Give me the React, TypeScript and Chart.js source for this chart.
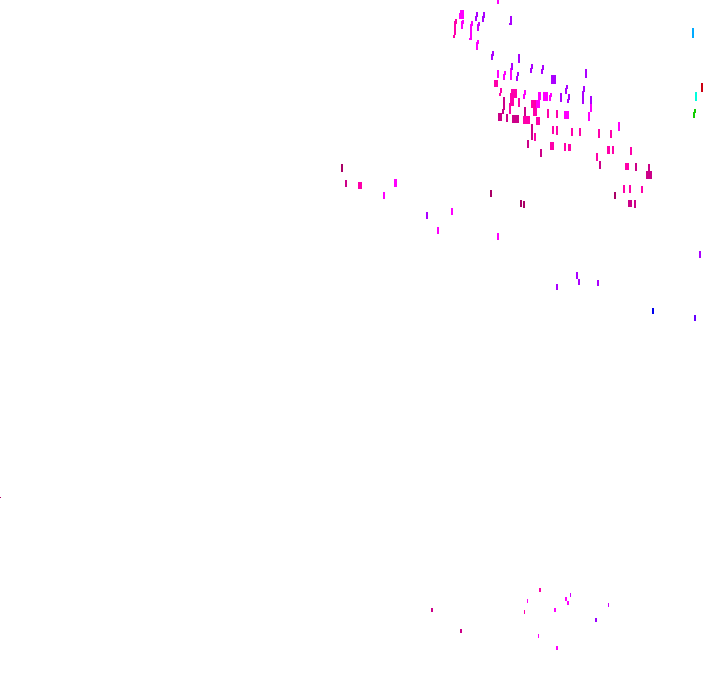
import React, { useEffect, useRef } from "react";
import { Chart, registerables } from "chart.js";

Chart.register(...registerables);

const violetX = [477,476,484,483,511,509.5,493,492,519,512,532,531,543,542,586,518,517,553.5,567,566,584,583,569,568,561,591,427,700,577,579,598,557];
const violetY = [14.5,18.5,15,19,20.5,24,53.5,57,58.5,66.5,66.5,70.5,67.5,71.5,73.5,74,78.5,79.5,87,91,89,97.5,97,101,97.5,100,215.5,254.5,275.5,282,283,287];
const violetW = [2,2,2,2,2,1,2,2,2,2,2,2,2,2,2,2,2,5,2,2,2,2,2,2,2,2,2,2,2,2,2,2];
const violetH = [5,5,6,6,9,2,5,6,9,7,5,5,5,5,9,4,5,9,4,6,6,13,6,4,9,8,7,7,7,6,6,6];

const magentaX = [498,462,461.5,462,463,472,471,469.5,478,477,511,498,505,504,525,524,539.5,545.5,551,550,591,589,566.5,538,619,395.5,384,452,438,498,566,568,527.5,555,538.5,557];
const magentaY = [2,14.5,16,25,22,23.5,32,39,42,46,74,74,73,77,92.5,96.5,96,96.5,95,98,108,116.5,115,104,126.5,183,195.5,211.5,230.5,236.5,599,603,601,610,636,648];
const magentaW = [2,4,5,2,2,2,2,1,2,2,2,2,2,2,2,2,3,5,2,2,2,2,5,4,2,3,2,2,2,2,2,2,1,2,1,2];
const magentaH = [4,9,6,8,4,5,16,2,4,8,12,8,4,6,5,5,8,9,4,6,8,9,8,8,9,8,7,7,7,7,4,4,4,4,4,4];

const orchidX = [479,478,570.5,608.5];
const orchidY = [24,27.5,595,605];
const orchidW = [2,2,1,1];
const orchidH = [4,7,4,4];

const hotPinkX = [456,455,454,496,501,500,514,512,510,526.5,533.5,535,538,548,557,519,535,553,557,572,580,599,611,552,565,569.5,608.5,613,631,597,627,624,630,642,360,540,524.5];
const hotPinkY = [21.5,28,36.5,83.5,90.5,94.5,93.5,99.5,108.5,120,104,112,121,113.5,114,102.5,137,130,130.5,132,132,133.5,134,146,147,147.5,150,150,151,157,166.5,189,189,189.5,185.5,590,612];
const hotPinkW = [2,2,2,4,2,2,6,4,2,7,5,4,4,2,2,2,2,2,2,2,2,2,2,4,2,3,3,2,2,2,4,2,2,2,4,2,1];
const hotPinkH = [5,14,3,7,5,3,9,13,11,8,8,8,8,9,8,9,8,8,9,8,8,9,8,8,8,7,8,8,8,8,7,8,8,7,7,4,4];

const darkPinkX = [504,503,500,507,515.5,525,532,528,541,600,636,649,649,630,635,346,432,461];
const darkPinkY = [103.5,111.5,117,118,119,111.5,132,144,153,165,167,167.5,175,203.5,204,183.5,610,631];
const darkPinkW = [2,2,4,2,7,2,2,2,2,2,2,2,6,4,2,2,2,2];
const darkPinkH = [13,5,8,8,8,9,16,8,8,8,8,7,8,7,8,7,4,4];

const crimsonX = [615,491,521,524,342,0.5];
const crimsonY = [195.5,193.5,203.5,204.5,168,497.5];
const crimsonW = [2,2,2,2,2,1];
const crimsonH = [7,7,7,7,8,1];

const accentX = [693,702,696,695,694,653,695,596];
const accentY = [33,87.5,96.5,111,115,311,318,620];
const accentW = [2,2,2,2,2,2,2,2];
const accentH = [10,9,9,4,6,6,6,4];
const accentColors = ["#00aaff","#cc0011","#00ffdd","#11cc00","#11cc00","#0000ee","#6600ff","#9900ff"];

function mark(w: number, h: number, color: string): HTMLCanvasElement {
  const c = document.createElement("canvas");
  c.width = w;
  c.height = h;
  const g = c.getContext("2d")!;
  g.fillStyle = color;
  g.fillRect(0, 0, w, h);
  return c;
}

function series(label: string, xs: number[], ys: number[], ws: number[], hs: number[], color: string | string[]) {
  return {
    label,
    data: xs.map((x, i) => ({ x, y: ys[i] })),
    pointStyle: xs.map((_, i) => mark(ws[i], hs[i], Array.isArray(color) ? color[i] : color)),
    pointRadius: 3,
    showLine: false,
    clip: false as const,
  };
}

export default function App() {
  const ref = useRef<HTMLCanvasElement | null>(null);
  useEffect(() => {
    const chart = new Chart(ref.current!, {
      type: "scatter",
      data: {
        datasets: [
          series("violet", violetX, violetY, violetW, violetH, "#aa00ff"),
          series("orchid", orchidX, orchidY, orchidW, orchidH, "#cc00ff"),
          series("magenta", magentaX, magentaY, magentaW, magentaH, "#ff00ff"),
          series("hot pink", hotPinkX, hotPinkY, hotPinkW, hotPinkH, "#ff00aa"),
          series("dark pink", darkPinkX, darkPinkY, darkPinkW, darkPinkH, "#cc0088"),
          series("crimson", crimsonX, crimsonY, crimsonW, crimsonH, "#aa0066"),
          series("accent", accentX, accentY, accentW, accentH, accentColors),
        ] as any,
      },
      options: {
        animation: false,
        responsive: false,
        devicePixelRatio: 1,
        events: [],
        layout: { padding: 0, autoPadding: false },
        plugins: { legend: { display: false }, tooltip: { enabled: false }, title: { display: false } },
        scales: {
          x: { type: "linear", min: 0, max: 720, display: false },
          y: { type: "linear", min: 0, max: 692, reverse: true, display: false },
        },
      },
    });
    return () => chart.destroy();
  }, []);
  return (
    <canvas
      ref={ref}
      width={720}
      height={692}
      style={{ position: "absolute", left: 0, top: 0, width: 720, height: 692, display: "block" }}
    />
  );
}
